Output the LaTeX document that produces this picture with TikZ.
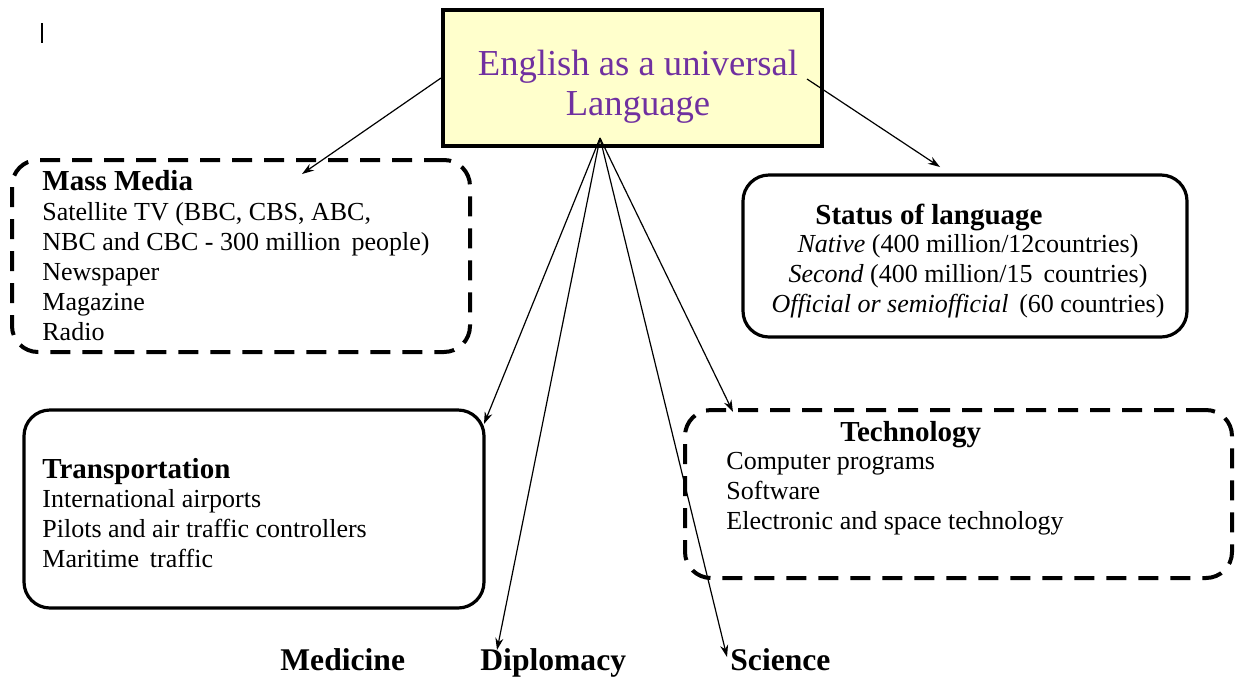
\documentclass[tikz,border=0pt]{standalone}
\usepackage{fontspec}
\setmainfont{Liberation Serif}
\usepackage{xcolor}
\definecolor{nenvang}{HTML}{FFFFCC}
\definecolor{chutim}{HTML}{7030A0}
\def\maunen{nenvang}
\def\mauchu{chutim}
\usepackage{tikz}
\usetikzlibrary{arrows.meta,positioning,calc}

\begin{document}
\begin{tikzpicture}[x=0.5pt,y=-0.5pt]
		\tikzset{
			stylebox/.style={draw,line width=1.6pt,rounded corners=13pt,inner sep=0pt},
			styledash/.style={draw,line width=2pt,rounded corners=13pt,dash pattern=on 10pt off 6pt,inner sep=0pt},
			stylefont/.style={font=\fontsize{13}{15}\selectfont,inner sep=0pt},
			stylehead/.style={font=\fontsize{14.5}{15}\selectfont\bfseries,inner sep=0pt},
			stylebottom/.style={font=\fontsize{15.8}{18}\selectfont\bfseries,inner sep=0pt},
			stylearrow/.style={line width=0.6pt,-{Stealth[length=6pt,width=4pt]}}
		}
		\useasboundingbox (0,0) rectangle (1236,676);
		\draw[line width=1.3pt] (42,23) -- (42,43);
		%%%Khung chinh
		\node[draw,line width=2pt,fill=\maunen,minimum width=189.5pt,minimum height=68pt,inner sep=0pt] (main) at (632.5,78) {};
		\node[font=\fontsize{18.3}{20}\selectfont,text=\mauchu,align=center,inner sep=0pt,anchor=base] (maintext) at (638,115) {English as a universal\\Language};
		%%%Mass media
		\node[styledash,minimum width=229pt,minimum height=96pt] (media) at (241,256) {};
		\node[stylehead,anchor=base west] (mediahead) at (42,190) {Mass Media};
		\node[stylefont,align=left,anchor=base west] (mediatext) at (42,340) {Satellite TV (BBC, CBS, ABC,\\NBC and CBC - 300 million\ \,people)\\Newspaper\\Magazine\\Radio};
		%%%Status
		\node[stylebox,minimum width=222pt,minimum height=81pt] (status) at (965,256) {};
		\node[stylehead,anchor=base west] (statushead) at (815,224) {Status of language};
		\node[stylefont,align=center,anchor=base] (statustext) at (968,312) {\textit{Native} (400 million/12countries)\\\textit{Second} (400 million/15\ \,countries)\\\textit{Official or semiofficial}\ \,(60 countries)};
		%%%Transportation
		\node[stylebox,minimum width=230pt,minimum height=99pt] (trans) at (254,509) {};
		\node[stylehead,anchor=base west] (transhead) at (42,478) {Transportation};
		\node[stylefont,align=left,anchor=base west] (transtext) at (42,567) {International airports\\Pilots and air traffic controllers\\Maritime\ \,traffic};
		%%%Technology
		\node[styledash,minimum width=273.5pt,minimum height=84pt] (tech) at (958.5,494) {};
		\node[stylehead,anchor=base west] (techhead) at (840,441) {Technology};
		\node[stylefont,align=left,anchor=base west] (techtext) at (726,529) {Computer programs\\Software\\Electronic and space technology};
		%%%Chu duoi
		\node[stylebottom,anchor=base west] (medicine) at (280,670) {Medicine};
		\node[stylebottom,anchor=base west] (diplomacy) at (480,670) {Diplomacy};
		\node[stylebottom,anchor=base west] (science) at (730,670) {Science};
		%%%Mui ten
		\coordinate (hub) at (600,138);
		\coordinate (rstart) at (807,79);
		\coordinate (mediatip) at (302,174);
		\coordinate (statustip) at (940,167);
		\coordinate (transtip) at (484,424);
		\coordinate (dipltip) at (497,650);
		\coordinate (scitip) at (727,657);
		\coordinate (techtip) at (733,412);
		\draw[stylearrow] (main.west) -- (mediatip);
		\draw[stylearrow] (rstart) -- (statustip);
		\foreach \d in {transtip,dipltip,scitip,techtip}{%
			\draw[stylearrow] (hub) -- (\d);
		}
\end{tikzpicture}
\end{document}
